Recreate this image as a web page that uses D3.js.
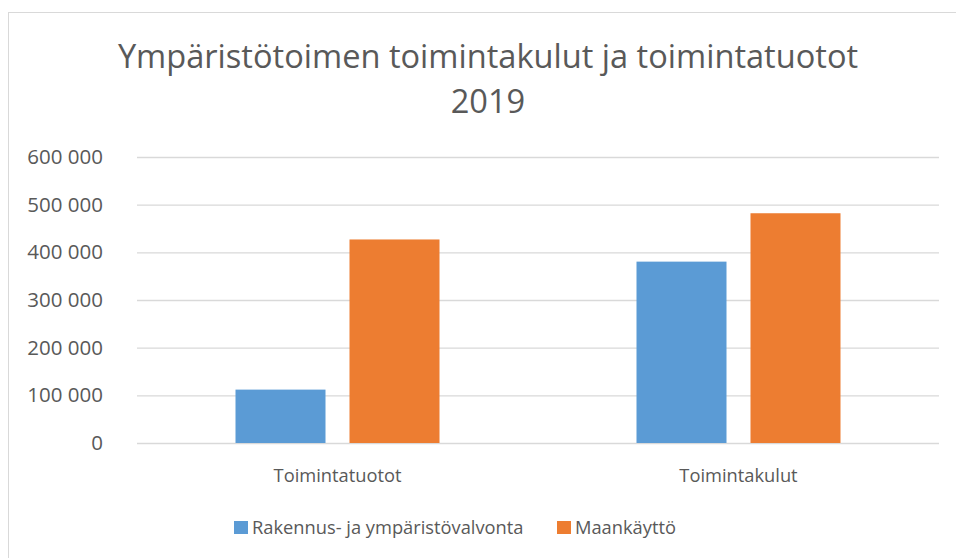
<!DOCTYPE html>
<html><head><meta charset="utf-8">
<script src="https://cdn.jsdelivr.net/npm/d3@7"></script>
<style>
html,body{margin:0;padding:0;background:#fff;}
svg{display:block;font-family:"Open Sans",sans-serif;}
</style></head>
<body>
<svg id="chart" width="956" height="558"></svg>
<script>
const titleLines = ["Ympäristötoimen toimintakulut ja toimintatuotot", "2019"];
const categories = ["Toimintatuotot", "Toimintakulut"];
const seriesNames = ["Rakennus- ja ympäristövalvonta", "Maankäyttö"];
const seriesColors = ["#5B9BD5", "#ED7D31"];
const rakennusValues = [112000, 380500];
const maankayttoValues = [427000, 482000];
const yTicks = [0, 100000, 200000, 300000, 400000, 500000, 600000];

const svg = d3.select("#chart");
const plot = {left: 137, right: 939, top: 157, bottom: 443};
const textColor = "#595959";

// outer chart border (top/left visible)
svg.append("rect").attr("x", 8.5).attr("y", 12.5).attr("width", 1000).attr("height", 1000)
  .attr("fill", "none").attr("stroke", "#d9d9d9").attr("stroke-width", 1);

// title
const title = svg.append("text").attr("text-anchor", "middle").attr("fill", textColor)
  .style("font-size", "32.6px");
title.selectAll("tspan").data(titleLines).join("tspan")
  .attr("x", 488).attr("y", (d, i) => 68 + i * 45).text(d => d);

const y = d3.scaleLinear().domain([0, 600000]).range([plot.bottom, plot.top]);
const x0 = d3.scaleBand().domain(categories).range([plot.left, plot.right]).paddingInner(0).paddingOuter(0);
const groupW = 204;
const x1 = d3.scaleBand().domain(seriesNames)
  .range([(x0.bandwidth() - groupW) / 2, (x0.bandwidth() + groupW) / 2]).paddingInner(24 / 114);

const fmt = v => d3.format(",")(v).replace(/,/g, " ");

// gridlines + y labels
const yAxis = d3.axisLeft(y).tickValues(yTicks).tickSize(-(plot.right - plot.left)).tickPadding(34).tickFormat(fmt);
const gy = svg.append("g").attr("transform", `translate(${plot.left},0)`).call(yAxis);
gy.select(".domain").remove();
gy.selectAll(".tick line").attr("stroke", "#d9d9d9").attr("stroke-width", 1.3);
gy.selectAll(".tick text").attr("fill", textColor).style("font-size", "20.5px")
  .style("font-family", "'Open Sans',sans-serif");

// bars
const data = categories.map((c, i) => ({cat: c, vals: [rakennusValues[i], maankayttoValues[i]]}));
const groups = svg.append("g").selectAll("g").data(data).join("g")
  .attr("transform", d => `translate(${x0(d.cat)},0)`);
groups.selectAll("rect").data(d => d.vals.map((v, i) => ({s: seriesNames[i], v, c: seriesColors[i]})))
  .join("rect")
  .attr("x", d => x1(d.s)).attr("width", x1.bandwidth())
  .attr("y", d => y(d.v)).attr("height", d => y(0) - y(d.v))
  .attr("fill", d => d.c);

// x axis labels
const xAxis = d3.axisBottom(x0).tickSize(0).tickPadding(26);
const gx = svg.append("g").attr("transform", `translate(0,${plot.bottom})`).call(xAxis);
gx.select(".domain").remove();
gx.selectAll(".tick text").attr("fill", textColor).style("font-size", "18.3px")
  .style("font-family", "'Open Sans',sans-serif");

// legend
const legendX = [234, 557];
const lg = svg.append("g").selectAll("g").data(seriesNames).join("g")
  .attr("transform", (d, i) => `translate(${legendX[i]},521)`);
lg.append("rect").attr("width", 14).attr("height", 13).attr("fill", (d, i) => seriesColors[i]);
lg.append("text").attr("x", 18).attr("y", 12.5).attr("fill", textColor).style("font-size", "18.3px").text(d => d);
</script>
</body></html>
